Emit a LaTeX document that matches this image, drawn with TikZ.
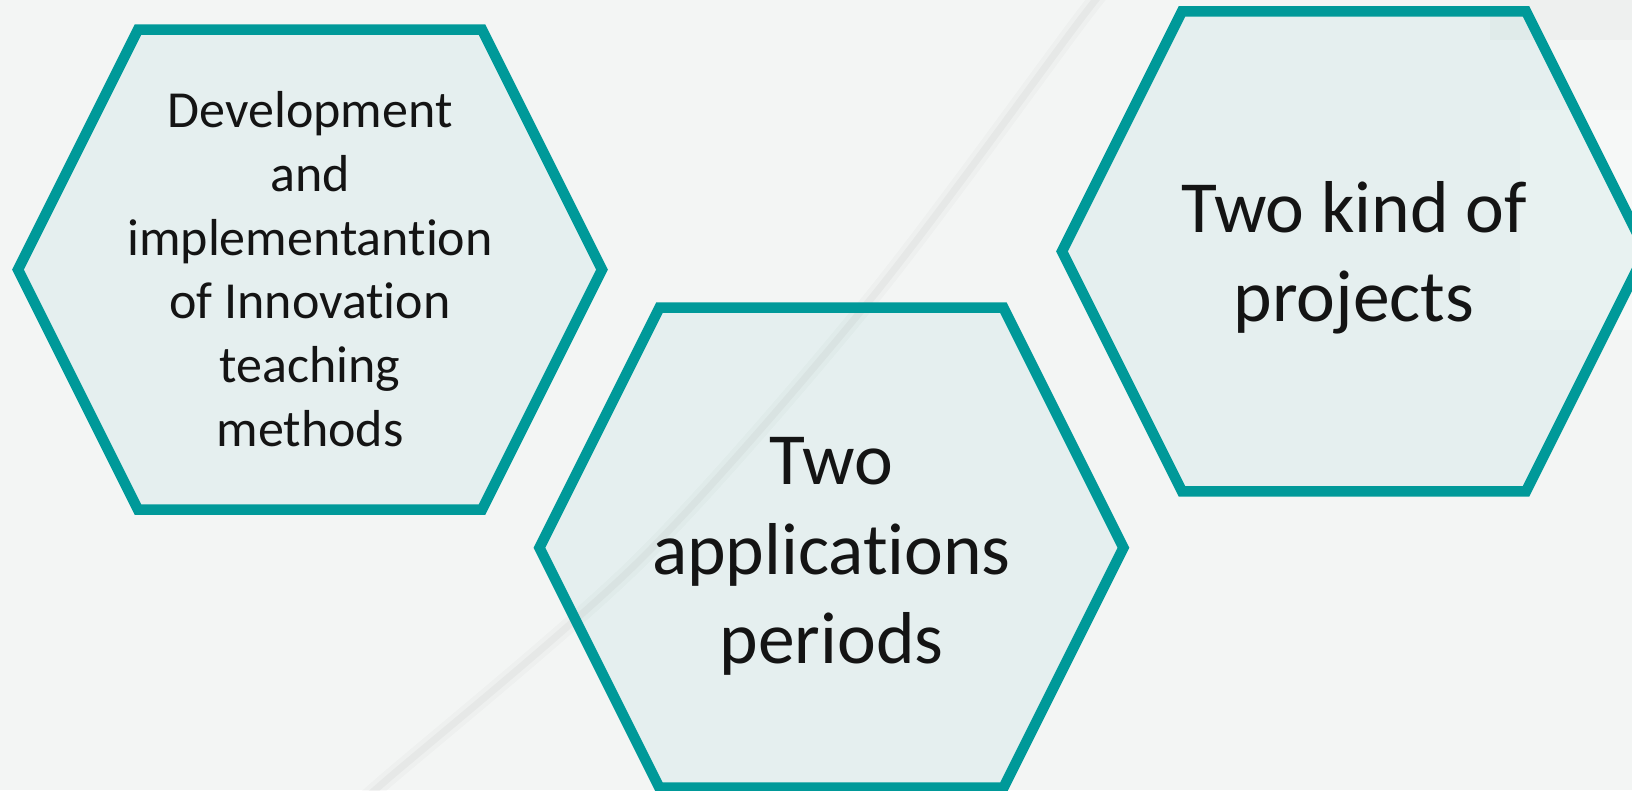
\documentclass[tikz,border=0pt]{standalone}
\usepackage{fontspec}
\setmainfont{Carlito}[Ligatures=NoCommon]
\definecolor{bgc}{HTML}{F3F5F4}
\definecolor{tealc}{HTML}{009999}
\begin{document}
\begin{tikzpicture}[x=1pt,y=-1pt,
  hexbox/.style={draw=tealc, line width=10.5pt, fill=tealc, fill opacity=0.055, line join=miter},
  lbl/.style={align=center, text=black!92, inner sep=0pt},
  hexagon/.pic={
    \path[hexbox] (-172,-240) -- (172,-240) -- (292,0) -- (172,240) -- (-172,240) -- (-292,0) -- cycle;
  }]
\useasboundingbox (0,0) rectangle (1632,790);
\clip (0,0) rectangle (1632,790);
\fill[bgc] (0,0) rectangle (1632,790);
% faint background photo traces
\fill[black, opacity=0.02] (1490,0) rectangle (1632,40);
\fill[white, opacity=0.3] (1520,110) rectangle (1632,330);
\draw[black, opacity=0.02, line width=16pt, line cap=round] plot[smooth] coordinates {(1105,-10) (1080,20) (870,300) (640,560) (383,783) (365,800)};
\draw[black, opacity=0.03, line width=7pt, line cap=round] plot[smooth] coordinates {(1105,-10) (1080,20) (870,300) (640,560) (383,783) (365,800)};
% hexagons
\pic at (310,269.7) {hexagon};
\pic at (831.4,547.7) {hexagon};
\pic at (1354,251.3) {hexagon};
% texts
\node[lbl, font=\fontsize{52}{63.7}\selectfont] (t1) at (310,269)
  {Development\\and\\implementantion\\of Innovation\\teaching\\methods};
\node[lbl, font=\fontsize{73.5}{89.5}\selectfont] (t2) at (831.5,556.5)
  {Two\\applications\\periods};
\node[lbl, font=\fontsize{73.5}{89}\selectfont] (t3) at (1354,258)
  {Two kind of\\projects};
\end{tikzpicture}
\end{document}
